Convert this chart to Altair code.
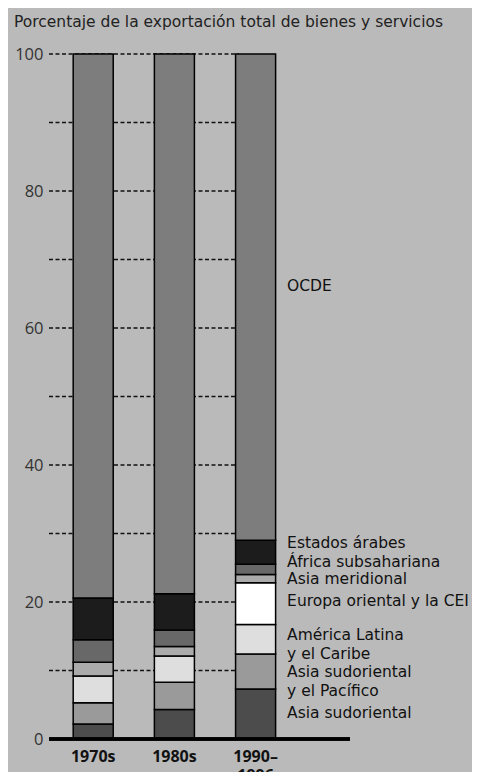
import altair as alt
import pandas as pd

categories = ["1970s", "1980s", "1990–1996"]
regions = [
    "Asia sudoriental",
    "Asia sudoriental y el Pacífico",
    "América Latina y el Caribe",
    "Europa oriental y la CEI",
    "Asia meridional",
    "África subsahariana",
    "Estados árabes",
    "OCDE",
]
region_labels = [
    "Asia sudoriental",
    "Asia sudoriental\ny el Pacífico",
    "América Latina\ny el Caribe",
    "Europa oriental y la CEI",
    "Asia meridional",
    "África subsahariana",
    "Estados árabes",
    "OCDE",
]
values_1970s = [2.2, 3.1, 3.9, 0.0, 2.0, 3.3, 6.1, 79.4]
values_1980s = [4.3, 4.0, 3.8, 0.0, 1.4, 2.4, 5.3, 78.8]
values_1990s = [7.3, 5.1, 4.3, 6.1, 1.2, 1.5, 3.5, 71.0]
label_pos = [3.8, 9.8, 15.15, 20.2, 23.4, 25.8, 28.65, 66.1]
y_ticks = [0, 20, 40, 60, 80, 100]
grid_vals = [10, 20, 30, 40, 50, 60, 70, 80, 90, 100]
colors = ["#4c4c4c", "#9a9a9a", "#dedede", "#ffffff", "#ababab", "#686868", "#1c1c1c", "#7d7d7d"]

rows = []
for cat, vals in zip(categories, [values_1970s, values_1980s, values_1990s]):
    for i, (reg, v) in enumerate(zip(regions, vals)):
        if v > 0:
            rows.append({"cat": cat, "region": reg, "value": v, "order": i})
df = pd.DataFrame(rows)
lab_df = pd.DataFrame({"cat": categories[-1], "label": region_labels, "pos": label_pos})
grid_df = pd.DataFrame({"g": grid_vals})

FONT = "Open Sans"
TFONT = "DejaVu Sans"
xscale = alt.Scale(domain=categories, range=[0, 250.8], paddingInner=0.507, paddingOuter=0.298, round=False)
yscale = alt.Scale(domain=[0, 100], nice=False, zero=True)

grid = alt.Chart(grid_df).mark_rule(color="#111", strokeDash=[4, 2.5], strokeWidth=1.3).encode(
    y=alt.Y("g:Q", scale=yscale),
    x=alt.value(0),
    x2=alt.value(190),
)

bars = alt.Chart(df).mark_bar(stroke="#000", strokeWidth=1.5).encode(
    x=alt.X("cat:N", scale=xscale, sort=categories,
            axis=alt.Axis(title=None, domain=False, ticks=False, labelAngle=0,
                          labelFont=FONT, labelFontSize=16, labelFontWeight="bold",
                          labelColor="#111", labelPadding=9, labelLineHeight=19,
                          labelExpr="datum.value == '1990–1996' ? ['1990–', '1996'] : datum.value")),
    y=alt.Y("value:Q", stack="zero", scale=yscale,
            axis=alt.Axis(title=None, values=y_ticks, domain=False, ticks=False, grid=False,
                          labelFont=FONT, labelFontSize=16.5, labelColor="#333", labelPadding=6)),
    color=alt.Color("region:N", scale=alt.Scale(domain=regions, range=colors), legend=None),
    order=alt.Order("order:Q", sort="ascending"),
)

baseline = alt.Chart(grid_df).mark_rule(color="#000", strokeWidth=2.5).encode(
    y=alt.YDatum(0),
    x=alt.value(0),
    x2=alt.value(301),
)

labels = alt.Chart(lab_df).mark_text(
    align="left", baseline="middle", dx=31.5, font=TFONT, fontSize=15.5,
    color="#111", lineBreak="\n", lineHeight=19,
).encode(
    x=alt.X("cat:N", scale=xscale),
    y=alt.Y("pos:Q", scale=yscale),
    text="label:N",
)

chart = alt.layer(grid, bars, baseline, labels).properties(
    width=301,
    height=685,
    autosize=alt.AutoSizeParams(type="none"),
    padding={"left": 41, "top": 46, "right": 122, "bottom": 33},
    background="#bababa",
    title=alt.Title("Porcentaje de la exportación total de bienes y servicios",
                    anchor="start", frame="group", dx=-35, offset=16,
                    font=TFONT, fontSize=15.5, fontWeight="normal", color="#222"),
).configure_view(stroke=None)

chart.save("out.html", embed_options={"renderer": "svg", "actions": False})
